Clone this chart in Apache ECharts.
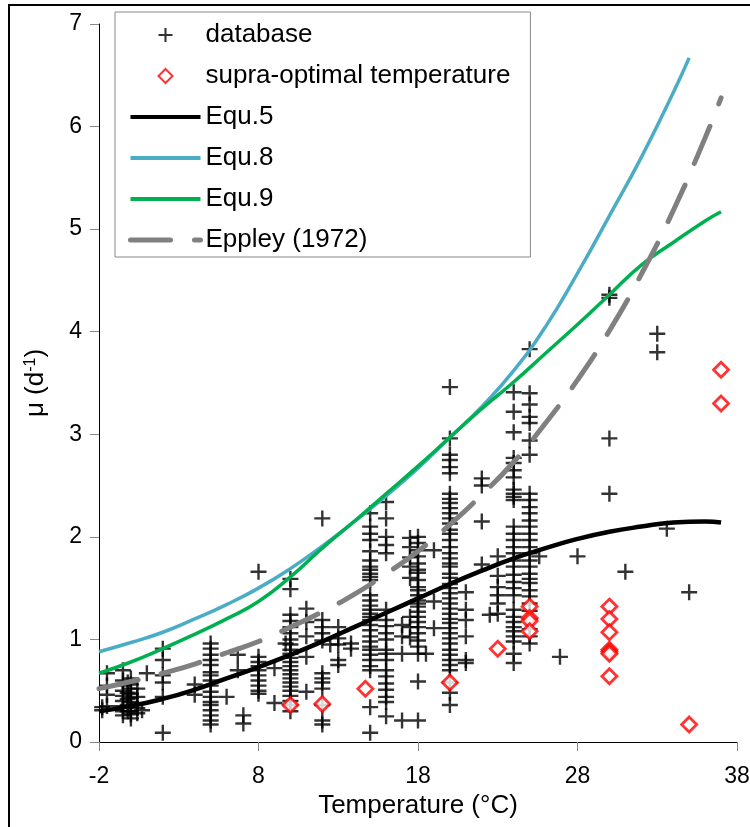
<!DOCTYPE html>
<html>
<head>
<meta charset="utf-8">
<script src="https://cdn.jsdelivr.net/npm/echarts@6/dist/echarts.min.js"></script>
<style>
  html, body { margin: 0; padding: 0; background: #fff; }
  #chart { width: 750px; height: 827px; }
</style>
</head>
<body>
<div id="chart"></div>
<script>
// database points, grouped by temperature column: [T, [mu, mu, ...]]
const databaseColumns = [
  [-1.8, [0.34, 0.31]],
  [-1.5, [0.67, 0.55, 0.46, 0.35]],
  [-0.5, [0.70, 0.60, 0.55, 0.50, 0.45, 0.40, 0.35, 0.30, 0.26]],
  [-0.2, [0.58, 0.48, 0.42, 0.36, 0.30]],
  [0, [0.62, 0.56, 0.52, 0.47, 0.43, 0.39, 0.34, 0.30, 0.27, 0.23]],
  [0.4, [0.52, 0.44, 0.38, 0.33, 0.28]],
  [0.7, [0.31]],
  [1.0, [0.67]],
  [2, [0.91, 0.80, 0.65, 0.58, 0.44, 0.09]],
  [4, [0.56, 0.46]],
  [5, [0.96, 0.91, 0.85, 0.80, 0.75, 0.68, 0.65, 0.60, 0.55, 0.49, 0.44, 0.39, 0.36, 0.31, 0.26, 0.21, 0.17]],
  [6, [0.44]],
  [6.7, [0.85, 0.70]],
  [7.05, [0.26, 0.18]],
  [8, [1.66, 0.83, 0.78, 0.74, 0.70, 0.65, 0.60, 0.55, 0.50, 0.47]],
  [9, [0.72, 0.38]],
  [9.7, [0.96]],
  [10, [1.59, 1.49, 1.24, 1.18, 1.12, 1.06, 1.00, 0.95, 0.90, 0.86, 0.82, 0.78, 0.74, 0.70, 0.66, 0.62, 0.58, 0.54, 0.50, 0.45, 0.40, 0.36, 0.30]],
  [11, [1.30, 1.17, 1.03, 0.83, 0.49]],
  [12, [2.18, 1.19, 1.12, 1.06, 0.99, 0.67, 0.62, 0.58, 0.52, 0.36, 0.21, 0.17]],
  [12.5, [0.95]],
  [13, [1.12, 1.01, 0.95, 0.80, 0.75]],
  [13.8, [0.96, 0.91]],
  [15, [2.23, 2.10, 2.03, 1.97, 1.86, 1.77, 1.71, 1.68, 1.64, 1.61, 1.58, 1.43, 1.38, 1.33, 1.29, 1.25, 1.22, 1.19, 1.14, 1.09, 1.03, 0.98, 0.93, 0.90, 0.85, 0.80, 0.74, 0.70, 0.34, 0.09]],
  [16, [2.34, 2.18, 2.00, 1.92, 1.84, 1.29, 1.19, 1.13, 1.06, 1.00, 0.90, 0.86, 0.80, 0.70, 0.64, 0.57, 0.51, 0.44, 0.39, 0.25]],
  [17, [1.14, 1.03, 0.86, 0.21]],
  [17.5, [1.99, 1.90, 1.80, 1.71, 1.60, 1.22, 1.12, 1.02]],
  [18, [2.00, 1.94, 1.87, 1.81, 1.74, 1.68, 1.65, 1.58, 1.51, 1.48, 1.43, 1.38, 1.35, 1.32, 1.27, 1.22, 1.17, 1.12, 1.06, 0.99, 0.93, 0.86, 0.59, 0.21]],
  [18.5, [0.86]],
  [19, [1.87, 1.37, 1.11]],
  [20, [3.46, 2.96, 2.80, 2.75, 2.68, 2.62, 2.42, 2.37, 2.33, 2.28, 2.23, 2.18, 2.13, 2.07, 2.03, 1.97, 1.90, 1.84, 1.79, 1.74, 1.71, 1.64, 1.60, 1.54, 1.50, 1.45, 1.40, 1.35, 1.30, 1.25, 1.20, 1.16, 1.11, 1.06, 1.01, 0.96, 0.90, 0.85, 0.80, 0.75, 0.70, 0.58, 0.48, 0.36]],
  [21, [1.46, 1.29, 1.19, 1.03, 0.80, 0.77]],
  [22, [2.57, 2.50, 2.15, 1.73]],
  [22.5, [1.24]],
  [23, [1.81, 1.62, 1.51, 1.43, 1.35, 1.25]],
  [24, [3.41, 3.22, 3.02, 2.77, 2.72, 2.65, 2.58, 2.46, 2.42, 2.39, 2.36, 2.10, 2.03, 1.97, 1.90, 1.84, 1.77, 1.71, 1.63, 1.56, 1.50, 1.43, 1.29, 1.22, 1.17, 1.12, 1.08, 1.03, 0.98, 0.86, 0.77]],
  [25, [3.83, 3.40, 3.29, 3.17, 3.11, 2.94, 2.80, 2.42, 2.36, 2.29, 2.23, 2.16, 2.10, 2.03, 1.97, 1.90, 1.84, 1.77, 1.71, 1.64, 1.59, 1.55, 1.48, 1.42, 1.35, 1.28, 1.20, 1.10, 1.03, 0.96]],
  [25.6, [1.81]],
  [26.9, [0.83]],
  [28, [1.81]],
  [30, [4.36, 4.33, 2.96, 2.42]],
  [31, [1.66]],
  [33, [3.98, 3.80]],
  [33.6, [2.08]],
  [35, [1.46]]
];

// supra-optimal temperature points
const supraT  = [10, 12, 14.7, 20, 23, 25, 25, 25, 25, 30, 30, 30, 30, 30, 30, 30, 35, 37, 37];
const supraMu = [0.36, 0.37, 0.52, 0.58, 0.91, 1.32, 1.21, 1.18, 1.08, 1.32, 1.20, 1.07, 0.90, 0.88, 0.86, 0.64, 0.17, 3.63, 3.30];

// model curves
const curveT  = [-2, 0, 2, 4, 6, 8, 10, 12, 14, 16, 18, 20, 22, 24, 26, 28, 30, 32, 34, 36, 37];
const equ5Mu  = [0.30, 0.35, 0.42, 0.51, 0.62, 0.73, 0.85, 0.98, 1.12, 1.26, 1.40, 1.54, 1.67, 1.79, 1.89, 1.98, 2.05, 2.10, 2.14, 2.15, 2.14];
const equ9Mu  = [0.67, 0.78, 0.91, 1.05, 1.20, 1.37, 1.61, 1.89, 2.15, 2.42, 2.69, 2.97, 3.25, 3.51, 3.79, 4.07, 4.36, 4.65, 4.87, 5.08, 5.17];
const eppleyMu = [0.52, 0.59, 0.67, 0.76, 0.87, 0.98, 1.12, 1.27, 1.44, 1.64, 1.86, 2.12, 2.41, 2.73, 3.11, 3.53, 4.01, 4.56, 5.18, 5.89, 6.28];
const equ8T   = [-2, 0, 2, 4, 6, 8, 10, 12, 14, 16, 18, 20, 22, 24, 26, 28, 30, 32, 34, 35];
const equ8Mu  = [0.88, 0.97, 1.07, 1.20, 1.34, 1.50, 1.69, 1.91, 2.15, 2.40, 2.67, 2.97, 3.27, 3.62, 4.05, 4.57, 5.13, 5.70, 6.33, 6.67];

const xTicks = { min: -2, max: 38, step: 10 };
const yTicks = { min: 0, max: 7, step: 1 };

const plusPath = "path://M6.8,0h2.4v6.8h6.8v2.4h-6.8v6.8h-2.4v-6.8h-6.8v-2.4h6.8z";
const diamondPath = "path://M7,0L14,7L7,14L0,7Z";
const axisFont = "'Liberation Sans', Arial, sans-serif";

const databaseData = [];
databaseColumns.forEach(([t, values]) => {
  values.forEach((v) => databaseData.push([t, v]));
});
const pairs = (xs, ys) => xs.map((x, i) => [x, ys[i]]);

// legend entry for a line series: just the stroke, no marker
const lineLegend = (name, width) => ({
  name,
  itemStyle: { color: "rgba(0,0,0,0)", borderWidth: 0 },
  lineStyle: { width }
});

const chart = echarts.init(document.getElementById("chart"), null, { renderer: "canvas" });

chart.setOption({
  animation: false,
  backgroundColor: "#fff",
  graphic: [
    {
      type: "rect",
      silent: true,
      z: -10,
      shape: { x: 9, y: 5, width: 800, height: 900 },
      style: { fill: "none", stroke: "#000", lineWidth: 2 }
    }
  ],
  grid: {
    left: 99,
    right: 13,
    top: 24,
    bottom: 85,
    containLabel: false,
    outerBoundsMode: "none"
  },
  legend: {
    orient: "vertical",
    left: 115,
    top: 12,
    padding: [10, 20, 4, 13],
    itemGap: 15,
    itemWidth: 70,
    itemHeight: 14,
    borderColor: "#888",
    borderWidth: 1,
    backgroundColor: "#fff",
    textStyle: {
      fontSize: 26,
      lineHeight: 26,
      color: "#000",
      fontFamily: axisFont
    },
    data: [
      { name: "database" },
      { name: "supra-optimal temperature" },
      lineLegend("Equ.5", 4),
      lineLegend("Equ.8", 4),
      lineLegend("Equ.9", 4),
      lineLegend("Eppley (1972)", 5)
    ]
  },
  xAxis: {
    type: "value",
    min: xTicks.min,
    max: xTicks.max,
    interval: xTicks.step,
    name: "Temperature (°C)",
    nameLocation: "middle",
    nameGap: 51,
    nameTextStyle: { fontSize: 26, color: "#000", fontFamily: axisFont },
    axisLine: { show: true, onZero: false, lineStyle: { color: "#000", width: 1 } },
    axisTick: { show: true, length: 9, lineStyle: { color: "#888" } },
    axisLabel: { margin: 23, fontSize: 23, color: "#000", fontFamily: axisFont },
    splitLine: { show: false }
  },
  yAxis: {
    type: "value",
    min: yTicks.min,
    max: yTicks.max,
    interval: yTicks.step,
    name: "{m|μ (d}{s|-1}{m|)}",
    nameLocation: "middle",
    nameGap: 50,
    nameTextStyle: {
      color: "#000",
      fontFamily: axisFont,
      rich: {
        m: { fontSize: 26, fontFamily: axisFont, color: "#000" },
        s: { fontSize: 16, fontFamily: axisFont, color: "#000", verticalAlign: "top", padding: [0, 0, 10, 0] }
      }
    },
    axisLine: { show: true, onZero: false, lineStyle: { color: "#000", width: 1 } },
    axisTick: { show: true, length: 9, lineStyle: { color: "#888" } },
    axisLabel: { margin: 17, fontSize: 23, color: "#000", fontFamily: axisFont },
    splitLine: { show: false }
  },
  series: [
    {
      name: "database",
      type: "scatter",
      symbol: plusPath,
      symbolSize: 16,
      itemStyle: { color: "#000" },
      data: databaseData
    },
    {
      name: "supra-optimal temperature",
      type: "scatter",
      symbol: diamondPath,
      symbolSize: 15,
      symbolKeepAspect: true,
      itemStyle: { color: "#fff", borderColor: "#ff0000", borderWidth: 2.8 },
      data: pairs(supraT, supraMu)
    },
    {
      name: "Equ.5",
      type: "line",
      smooth: true,
      symbol: "none",
      color: "#000",
      lineStyle: { color: "#000", width: 4.5 },
      data: pairs(curveT, equ5Mu)
    },
    {
      name: "Equ.8",
      type: "line",
      smooth: true,
      symbol: "none",
      color: "#4BACC6",
      lineStyle: { color: "#4BACC6", width: 3.5 },
      data: pairs(equ8T, equ8Mu)
    },
    {
      name: "Equ.9",
      type: "line",
      smooth: true,
      symbol: "none",
      color: "#00B050",
      lineStyle: { color: "#00B050", width: 3.5 },
      data: pairs(curveT, equ9Mu)
    },
    {
      name: "Eppley (1972)",
      type: "line",
      smooth: true,
      symbol: "none",
      color: "#808080",
      lineStyle: { color: "#808080", width: 5, type: [40, 24], dashOffset: 0, cap: "round" },
      data: pairs(curveT, eppleyMu)
    }
  ]
});
</script>
</body>
</html>
